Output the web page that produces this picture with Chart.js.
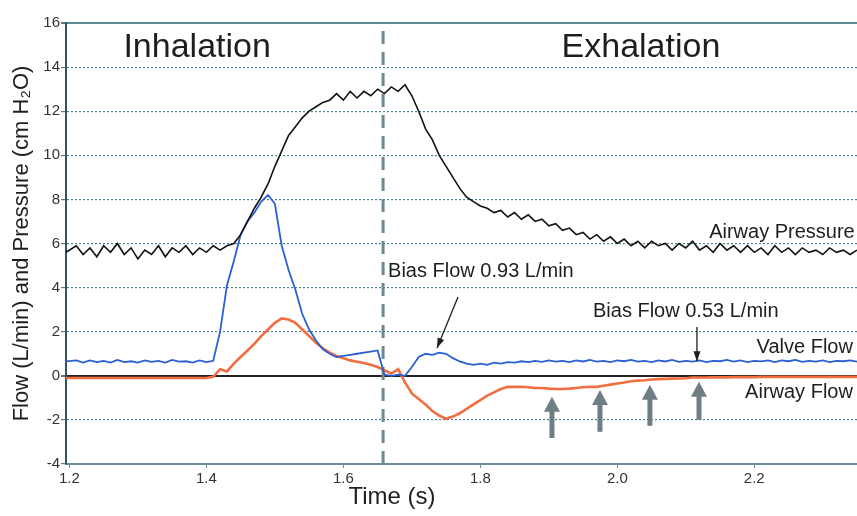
<!DOCTYPE html>
<html>
<head>
<meta charset="utf-8">
<script src="https://cdn.jsdelivr.net/npm/chart.js@4.4.1/dist/chart.umd.min.js"></script>
<style>
  html, body { margin: 0; padding: 0; background: #fff; }
  #wrap { width: 857px; height: 516px; position: relative; }
</style>
</head>
<body>
<div id="wrap"><canvas id="chart"></canvas></div>
<script>
// sample times (s), one every 10 ms
const times = [
  1.195, 1.21, 1.22, 1.23, 1.24, 1.25, 1.26, 1.27, 1.28, 1.29,
  1.30, 1.31, 1.32, 1.33, 1.34, 1.35, 1.36, 1.37, 1.38, 1.39,
  1.40, 1.41, 1.42, 1.43, 1.44, 1.45, 1.46, 1.47, 1.48, 1.49,
  1.50, 1.51, 1.52, 1.53, 1.54, 1.55, 1.56, 1.57, 1.58, 1.59,
  1.60, 1.61, 1.62, 1.63, 1.64, 1.65, 1.66, 1.67, 1.68, 1.69,
  1.70, 1.71, 1.72, 1.73, 1.74, 1.75, 1.76, 1.77, 1.78, 1.79,
  1.80, 1.81, 1.82, 1.83, 1.84, 1.85, 1.86, 1.87, 1.88, 1.89,
  1.90, 1.91, 1.92, 1.93, 1.94, 1.95, 1.96, 1.97, 1.98, 1.99,
  2.00, 2.01, 2.02, 2.03, 2.04, 2.05, 2.06, 2.07, 2.08, 2.09,
  2.10, 2.11, 2.12, 2.13, 2.14, 2.15, 2.16, 2.17, 2.18, 2.19,
  2.20, 2.21, 2.22, 2.23, 2.24, 2.25, 2.26, 2.27, 2.28, 2.29,
  2.30, 2.31, 2.32, 2.33, 2.34, 2.35
];

// cm H2O
const airwayPressure = [
  5.6, 5.9, 5.5, 5.8, 5.4, 5.9, 5.6, 6.0, 5.5, 5.8,
  5.3, 5.7, 5.5, 5.9, 5.4, 5.8, 5.6, 5.9, 5.5, 5.8,
  5.6, 5.9, 5.7, 5.9, 6.0, 6.4, 7.0, 7.6, 8.1, 8.7,
  9.5, 10.2, 10.9, 11.3, 11.7, 12.0, 12.2, 12.4, 12.5, 12.8,
  12.5, 12.9, 12.6, 12.9, 12.7, 13.0, 12.8, 13.1, 12.9, 13.2,
  12.7, 12.0, 11.2, 10.7, 10.0, 9.5, 9.0, 8.5, 8.1, 7.9,
  7.7, 7.6, 7.4, 7.5, 7.2, 7.4, 7.1, 7.3, 7.0, 7.1,
  6.8, 6.9, 6.6, 6.7, 6.4, 6.5, 6.2, 6.4, 6.1, 6.3,
  6.0, 6.2, 5.9, 6.1, 5.8, 6.1, 5.9, 6.0, 5.7, 6.0,
  5.8, 6.1, 5.7, 5.9, 5.6, 6.0, 5.7, 5.9, 5.6, 5.9,
  5.6, 5.8, 5.5, 5.9, 5.6, 5.8, 5.5, 5.8, 5.6, 5.7,
  5.5, 5.8, 5.6, 5.7, 5.5, 5.7
];

// L/min
const valveFlow = [
  0.65, 0.70, 0.60, 0.70, 0.62, 0.68, 0.60, 0.72, 0.62, 0.66,
  0.60, 0.70, 0.63, 0.68, 0.60, 0.72, 0.64, 0.66, 0.60, 0.70,
  0.62, 0.68, 2.0, 4.1, 5.2, 6.4, 7.0, 7.4, 7.9, 8.2,
  7.8, 5.9, 4.8, 3.9, 2.8, 2.1, 1.6, 1.2, 1.0, 0.85,
  0.90, 0.95, 1.0, 1.05, 1.1, 1.15, 0.05, 0.0, 0.05, 0.0,
  0.40, 0.85, 1.0, 0.95, 1.05, 1.0, 0.80, 0.65, 0.55, 0.50,
  0.55, 0.50, 0.60, 0.55, 0.62, 0.60, 0.66, 0.62, 0.68, 0.63,
  0.70, 0.64, 0.68, 0.62, 0.70, 0.65, 0.72, 0.64, 0.68, 0.62,
  0.70, 0.66, 0.72, 0.64, 0.68, 0.62, 0.70, 0.65, 0.72, 0.63,
  0.68, 0.64, 0.70, 0.62, 0.68, 0.66, 0.72, 0.64, 0.70, 0.62,
  0.68, 0.65, 0.70, 0.62, 0.70, 0.66, 0.72, 0.63, 0.68, 0.64,
  0.70, 0.62, 0.68, 0.66, 0.70, 0.64
];

// L/min
const airwayFlow = [
  -0.1, -0.1, -0.1, -0.1, -0.1, -0.1, -0.1, -0.1, -0.1, -0.1,
  -0.1, -0.1, -0.1, -0.1, -0.1, -0.1, -0.1, -0.1, -0.1, -0.1,
  -0.1, -0.05, 0.3, 0.2, 0.55, 0.85, 1.15, 1.45, 1.8, 2.1,
  2.4, 2.6, 2.55, 2.4, 2.1, 1.8, 1.5, 1.25, 1.05, 0.9,
  0.8, 0.7, 0.64, 0.58, 0.5, 0.4, 0.25, 0.1, 0.3, -0.3,
  -0.8, -1.05, -1.3, -1.6, -1.8, -1.95, -1.85, -1.7, -1.5, -1.3,
  -1.1, -0.9, -0.75, -0.6, -0.5, -0.5, -0.5, -0.52, -0.55, -0.55,
  -0.58, -0.6, -0.6, -0.58, -0.55, -0.52, -0.5, -0.5, -0.45, -0.4,
  -0.35, -0.3, -0.25, -0.22, -0.2, -0.17, -0.15, -0.14, -0.13, -0.12,
  -0.11, -0.08, -0.08, -0.08, -0.07, -0.07, -0.07, -0.06, -0.06, -0.06,
  -0.06, -0.05, -0.05, -0.05, -0.05, -0.05, -0.05, -0.05, -0.05, -0.05,
  -0.05, -0.05, -0.05, -0.05, -0.05, -0.05
];

const xTicks = [1.2, 1.4, 1.6, 1.8, 2.0, 2.2];
const phaseSplit = 1.658;

const FONT = "'Liberation Sans', Arial, sans-serif";
const INK = '#1e1e1e';
const GRID = '#4f7f8f';

// labels placed in data coordinates
const notes = [
  { text: 'Inhalation', x: 1.3865, y: 14.46, size: 34, align: 'center' },
  { text: 'Exhalation', x: 2.0345, y: 14.46, size: 34, align: 'center' },
  { text: 'Airway Pressure', x: 2.3467, y: 6.25, size: 20, align: 'right' },
  { text: 'Bias Flow 0.93 L/min', x: 1.6653, y: 4.48, size: 20, align: 'left' },
  { text: 'Bias Flow 0.53 L/min', x: 1.9645, y: 2.65, size: 20, align: 'left' },
  { text: 'Valve Flow', x: 2.344, y: 1.04, size: 20, align: 'right' },
  { text: 'Airway Flow', x: 2.344, y: -1.0, size: 20, align: 'right' }
];
const pointers = [
  { from: [1.7674, 3.57], to: [1.7368, 1.26] },
  { from: [2.1163, 2.21], to: [2.1163, 0.66] }
];
const bigArrows = [
  { x: 1.9046, top: -0.95, bottom: -2.82 },
  { x: 1.9747, top: -0.64, bottom: -2.54 },
  { x: 2.0476, top: -0.41, bottom: -2.27 },
  { x: 2.1193, top: -0.27, bottom: -2.0 }
];

function toPoints(ys) {
  return times.map((t, i) => ({ x: t, y: ys[i] }));
}

function arrowHead(ctx, x1, y1, x2, y2, len, half) {
  const a = Math.atan2(y2 - y1, x2 - x1);
  ctx.beginPath();
  ctx.moveTo(x2, y2);
  ctx.lineTo(x2 - len * Math.cos(a) + half * Math.sin(a), y2 - len * Math.sin(a) - half * Math.cos(a));
  ctx.lineTo(x2 - len * Math.cos(a) - half * Math.sin(a), y2 - len * Math.sin(a) + half * Math.cos(a));
  ctx.closePath();
  ctx.fill();
}

const annotate = {
  id: 'annotate',
  afterDatasetsDraw(chart) {
    const ctx = chart.ctx;
    const sx = chart.scales.x, sy = chart.scales.y;
    ctx.save();

    // gray markers under the airway flow curve
    ctx.fillStyle = '#6f7e84';
    ctx.strokeStyle = '#6f7e84';
    bigArrows.forEach(a => {
      const x = sx.getPixelForValue(a.x);
      const yt = sy.getPixelForValue(a.top);
      const yb = sy.getPixelForValue(a.bottom);
      ctx.lineWidth = 5;
      ctx.beginPath();
      ctx.moveTo(x, yb);
      ctx.lineTo(x, yt + 12);
      ctx.stroke();
      arrowHead(ctx, x, yb, x, yt, 15, 8);
    });

    // thin black pointers
    ctx.fillStyle = INK;
    ctx.strokeStyle = INK;
    pointers.forEach(p => {
      const x1 = sx.getPixelForValue(p.from[0]), y1 = sy.getPixelForValue(p.from[1]);
      const x2 = sx.getPixelForValue(p.to[0]), y2 = sy.getPixelForValue(p.to[1]);
      ctx.lineWidth = 1.3;
      ctx.beginPath();
      ctx.moveTo(x1, y1);
      ctx.lineTo(x2, y2);
      ctx.stroke();
      arrowHead(ctx, x1, y1, x2, y2, 10, 3.5);
    });

    ctx.textBaseline = 'alphabetic';
    notes.forEach(n => {
      ctx.font = n.size + 'px ' + FONT;
      ctx.textAlign = n.align;
      ctx.fillText(n.text, sx.getPixelForValue(n.x), sy.getPixelForValue(n.y));
    });

    // x axis title, sits left of centre in the original
    ctx.font = '24px ' + FONT;
    ctx.textAlign = 'center';
    ctx.textBaseline = 'middle';
    ctx.fillText('Time (s)', sx.getPixelForValue(1.671), chart.chartArea.bottom + 33);
    ctx.restore();
  }
};

Chart.defaults.font.family = FONT;

new Chart(document.getElementById('chart'), {
  type: 'line',
  data: {
    datasets: [
      {
        label: 'Airway Pressure',
        data: toPoints(airwayPressure),
        borderColor: '#111111',
        borderWidth: 1.6,
        order: 1
      },
      {
        label: 'Valve Flow',
        data: toPoints(valveFlow),
        borderColor: '#2b5fd4',
        borderWidth: 1.8,
        order: 2
      },
      {
        label: 'Airway Flow',
        data: toPoints(airwayFlow),
        borderColor: '#f06e40',
        borderWidth: 2.6,
        order: 3
      },
      {
        label: 'phase',
        data: [{ x: phaseSplit, y: -4 }, { x: phaseSplit, y: 16 }],
        borderColor: '#6c8a91',
        borderWidth: 3,
        borderDash: [13, 8],
        order: 4
      }
    ]
  },
  options: {
    responsive: true,
    maintainAspectRatio: false,
    animation: false,
    layout: { padding: { top: 23, left: 0, right: 0, bottom: 0 } },
    elements: {
      point: { radius: 0 },
      line: { tension: 0, fill: false }
    },
    plugins: {
      legend: { display: false },
      tooltip: { enabled: false }
    },
    scales: {
      x: {
        type: 'linear',
        min: 1.195,
        max: 2.35,
        afterBuildTicks(axis) {
          axis.ticks = xTicks.map(v => ({ value: v }));
        },
        afterFit(axis) { axis.height = 52; },
        grid: {
          drawOnChartArea: false,
          tickLength: 4,
          tickColor: '#6a8e96'
        },
        border: { color: '#6a8e96', width: 2 },
        ticks: {
          padding: 2,
          color: '#333',
          font: { size: 15 },
          maxRotation: 0,
          callback: v => v.toFixed(1)
        }
      },
      y: {
        min: -4,
        max: 16,
        afterFit(axis) { axis.width = 66; },
        ticks: {
          stepSize: 2,
          padding: 1,
          color: '#333',
          font: { size: 15 }
        },
        grid: {
          tickLength: 5,
          lineWidth: ctx => (ctx.tick && (ctx.tick.value === 0 || ctx.tick.value === 16)) ? 2 : 1.2,
          color: ctx => {
            if (!ctx.tick) return GRID;
            if (ctx.tick.value === 0) return '#222222';
            if (ctx.tick.value === 16) return '#5e8a94';
            return GRID;
          },
          tickColor: GRID
        },
        border: {
          color: '#2f5560',
          width: 2,
          dash: ctx => (ctx.tick && ctx.tick.value !== 0 && ctx.tick.value !== 16) ? [2, 2] : []
        },
        title: {
          display: true,
          text: 'Flow (L/min) and Pressure (cm H\u2082O)',
          color: INK,
          font: { size: 22 },
          padding: { top: 9, bottom: 0 }
        }
      }
    }
  },
  plugins: [annotate]
});
</script>
</body>
</html>
